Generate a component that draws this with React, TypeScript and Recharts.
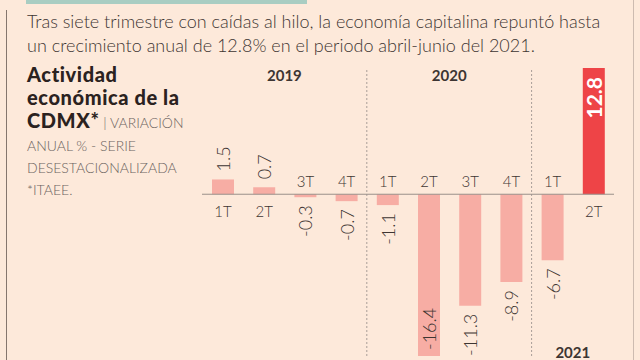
import { BarChart, Bar, Cell, XAxis, YAxis, ReferenceLine, LabelList } from 'recharts'

const categories = ['1T-2019', '2T-2019', '3T-2019', '4T-2019', '1T-2020', '2T-2020', '3T-2020', '4T-2020', '1T-2021', '2T-2021']
const quarterLabels = ['1T', '2T', '3T', '4T', '1T', '2T', '3T', '4T', '1T', '2T']
const values = [1.5, 0.7, -0.3, -0.7, -1.1, -16.4, -11.3, -8.9, -6.7, 12.8]

const PINK = '#f7ada4'
const RED = '#ee4447'
const BG = '#fde9da'
const TEXT = '#3d3532'
const FONT = 'Lato, "Open Sans", sans-serif'

const chartData = categories.map((c, i) => ({ cat: c, q: quarterLabels[i], value: values[i] }))
const maxV = Math.max(...values)
const minV = Math.min(...values)

function BarLabels(props: any) {
  const { x, y, width, height, index } = props
  const v = values[index]
  const top = Math.min(y, y + height)
  const bottom = Math.max(y, y + height)
  const cx = x + width / 2
  const pos = v >= 0
  const baseline = pos ? bottom : top
  const end = pos ? top : bottom
  const qy = pos ? baseline + 17 : baseline - 13
  // the two extreme bars carry their value inside the bar
  const inside = v === maxV || v === minV
  let vy: number
  let anchor: 'start' | 'end'
  if (pos) {
    vy = inside ? end + 9 : end - 8
    anchor = inside ? 'end' : 'start'
  } else {
    vy = inside ? end - 6 : end + 8
    anchor = inside ? 'start' : 'end'
  }
  const strong = inside && pos
  return (
    <g>
      <text x={cx} y={qy} textAnchor="middle" dominantBaseline="central" fontSize={15} fontWeight={300} fill={TEXT} fontFamily={FONT}>
        {quarterLabels[index]}
      </text>
      <text
        x={cx}
        y={vy}
        transform={`rotate(-90 ${cx} ${vy})`}
        textAnchor={anchor}
        dominantBaseline="central"
        fontSize={strong ? 21 : 18}
        fontWeight={strong ? 700 : 300}
        fill={strong ? '#ffffff' : TEXT}
        fontFamily={FONT}
      >
        {v.toFixed(1)}
      </text>
    </g>
  )
}

function YearLabel(props: any) {
  const { viewBox, text, bottom } = props
  const cx = viewBox.x
  const ty = bottom ? viewBox.y + viewBox.height - 4 : viewBox.y + 7
  return (
    <text x={cx} y={ty} textAnchor="middle" dominantBaseline="central" fontSize={15} fontWeight={700} fill={TEXT} fontFamily={FONT}>
      {text}
    </text>
  )
}

export default function App() {
  return (
    <div style={{ position: 'absolute', left: 0, top: 0, width: 640, height: 360, background: BG, overflow: 'hidden', fontFamily: FONT }}>
      <div style={{ position: 'absolute', left: 26, top: 0, width: 281, height: 4, background: '#a9cdc2' }} />
      <div style={{ position: 'absolute', left: 6, top: 10, width: 1, height: 350, background: '#85766e' }} />
      <div style={{ position: 'absolute', left: 633, top: 0, width: 1, height: 360, background: '#cdbbb0' }} />

      <div style={{ position: 'absolute', left: 27, top: 9, fontSize: 18, fontWeight: 300, color: TEXT, lineHeight: '24px', whiteSpace: 'nowrap' }}>
        Tras siete trimestre con caídas al hilo, la economía capitalina repuntó hasta
        <br />
        un crecimiento anual de 12.8% en el periodo abril-junio del 2021.
      </div>

      <div style={{ position: 'absolute', left: 27, top: 63, width: 180, lineHeight: '23px', color: '#2b2220' }}>
        <div style={{ fontSize: 20, fontWeight: 900, letterSpacing: 0.6 }}>Actividad</div>
        <div style={{ fontSize: 20, fontWeight: 900, letterSpacing: 0.6 }}>económica de la</div>
        <div style={{ whiteSpace: 'nowrap' }}>
          <span style={{ fontSize: 20, fontWeight: 900, letterSpacing: 0.6 }}>CDMX*</span>
          <span style={{ fontSize: 14, fontWeight: 300, color: '#6b6360' }}> | VARIACIÓN</span>
        </div>
        <div style={{ fontSize: 14, fontWeight: 300, color: '#6b6360', lineHeight: '22px', marginTop: 1 }}>
          ANUAL % - SERIE
          <br />
          DESESTACIONALIZADA
          <br />
          *ITAEE.
        </div>
      </div>

      <div style={{ position: 'absolute', left: 0, top: 0 }}>
        <BarChart width={640} height={360} data={chartData} margin={{ top: 68, right: 26, bottom: 4, left: 202 }} barCategoryGap={0}>
          <XAxis dataKey="cat" hide />
          <YAxis hide domain={[minV, maxV]} />
          <ReferenceLine x="4T-2019" position="end" stroke="#a89d98" strokeDasharray="2 2" />
          <ReferenceLine x="4T-2020" position="end" stroke="#a89d98" strokeDasharray="2 2" />
          <ReferenceLine x="2T-2019" position="end" stroke="none" label={<YearLabel text="2019" />} />
          <ReferenceLine x="2T-2020" position="end" stroke="none" label={<YearLabel text="2020" />} />
          <ReferenceLine x="1T-2021" position="end" stroke="none" label={<YearLabel text="2021" bottom />} />
          <Bar dataKey="value" barSize={22} isAnimationActive={false}>
            {chartData.map((_d, i) => (
              <Cell key={`c-${i}`} fill={i === chartData.length - 1 ? RED : PINK} />
            ))}
            <LabelList dataKey="value" content={<BarLabels />} />
          </Bar>
          <ReferenceLine y={0} stroke="#9a908b" />
        </BarChart>
      </div>
    </div>
  )
}
